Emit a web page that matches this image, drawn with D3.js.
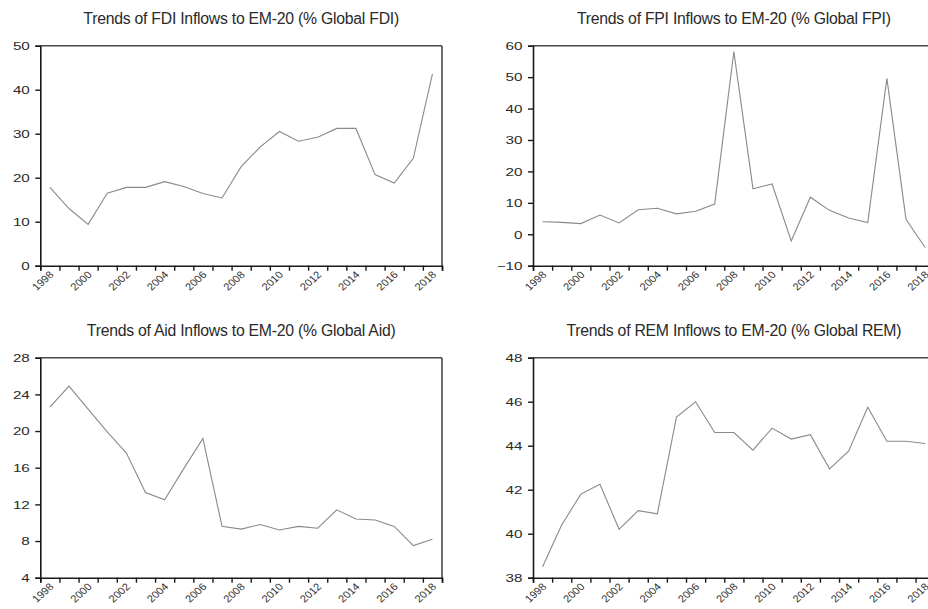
<!DOCTYPE html>
<html>
<head>
<meta charset="utf-8">
<script src="https://cdn.jsdelivr.net/npm/d3@7"></script>
<style>
  html, body { margin: 0; padding: 0; background: #fff; }
  svg { display: block; }
  text { font-family: "Liberation Sans", Arial, sans-serif; }
</style>
</head>
<body>
<script>
// ---------------- DATA ----------------
const years = [1998, 1999, 2000, 2001, 2002, 2003, 2004, 2005, 2006, 2007, 2008,
               2009, 2010, 2011, 2012, 2013, 2014, 2015, 2016, 2017, 2018];
const tickLabels = ["1998", "2000", "2002", "2004", "2006", "2008", "2010", "2012", "2014", "2016", "2018"];

const fdiValues = [17.8, 13.0, 9.4, 16.5, 17.8, 17.8, 19.1, 18.0, 16.4, 15.4, 22.5,
                   27.0, 30.5, 28.3, 29.2, 31.2, 31.2, 20.7, 18.8, 24.4, 43.6];
const fpiValues = [4.0, 3.8, 3.4, 6.1, 3.6, 7.8, 8.3, 6.5, 7.3, 9.6, 58.1,
                   14.5, 16.0, -2.1, 11.8, 7.6, 5.2, 3.7, 49.6, 4.8, -4.2];
const aidValues = [22.6, 24.9, 22.4, 19.9, 17.6, 13.3, 12.5, 15.9, 19.2, 9.6, 9.3,
                   9.8, 9.2, 9.6, 9.4, 11.4, 10.4, 10.3, 9.6, 7.5, 8.2];
const remValues = [38.5, 40.4, 41.8, 42.25, 40.2, 41.05, 40.9, 45.3, 46.0, 44.6, 44.6,
                   43.8, 44.8, 44.3, 44.5, 42.95, 43.75, 45.75, 44.2, 44.2, 44.1];

const titles = [
  "Trends of FDI Inflows to EM-20 (% Global FDI)",
  "Trends of FPI Inflows to EM-20 (% Global FPI)",
  "Trends of Aid Inflows to EM-20 (% Global Aid)",
  "Trends of REM Inflows to EM-20 (% Global REM)"
];
const yDomains = [[0, 50], [-10, 60], [4, 28], [38, 48]];
const yTickValues = [
  [0, 10, 20, 30, 40, 50],
  [-10, 0, 10, 20, 30, 40, 50, 60],
  [4, 8, 12, 16, 20, 24, 28],
  [38, 40, 42, 44, 46, 48]
];
const seriesList = [fdiValues, fpiValues, aidValues, remValues];

// ---------------- LAYOUT ----------------
const W = 928, H = 609;
const plotW = 401.7, plotH = 220;
const lefts = [40.3, 533, 40.3, 533];
const tops = [45.7, 45.7, 357.7, 357.7];

const svg = d3.select("body").append("svg")
  .attr("width", W).attr("height", H);

seriesList.forEach((vals, i) => {
  const L = lefts[i], T = tops[i];
  const g = svg.append("g").attr("transform", `translate(${L},${T})`);

  const x = d3.scaleLinear().domain([years[0], years[years.length - 1] + 1]).range([0, plotW]);
  const y = d3.scaleLinear().domain(yDomains[i]).range([plotH, 0]);

  // title
  svg.append("text")
    .attr("x", L + plotW / 2)
    .attr("y", T - 21.5)
    .attr("text-anchor", "middle")
    .attr("font-size", "15.8px")
    .attr("fill", "#2a2a2a")
    .attr("letter-spacing", "-0.25px")
    .text(titles[i]);

  // frame top/right
  g.append("line").attr("x1", 0).attr("x2", plotW).attr("y1", 0).attr("y2", 0)
    .attr("stroke", "#4a4a4a").attr("stroke-width", 1.4);
  g.append("line").attr("x1", plotW).attr("x2", plotW).attr("y1", 0).attr("y2", plotH)
    .attr("stroke", "#4a4a4a").attr("stroke-width", 1.6);

  // data line
  const line = d3.line()
    .x((d, k) => x(years[k] + 0.5))
    .y(d => y(d));
  g.append("path")
    .datum(vals)
    .attr("fill", "none")
    .attr("stroke", "#8a8a8a")
    .attr("stroke-width", 1.1)
    .attr("d", line);

  // y axis
  const yAxis = d3.axisLeft(y).tickValues(yTickValues[i]).tickSize(5).tickPadding(0).tickFormat(d3.format("d"));
  const ya = g.append("g").call(yAxis);
  ya.select(".domain").attr("stroke", "#1a1a1a").attr("stroke-width", 1.6);
  ya.selectAll(".tick line").attr("stroke", "#1a1a1a").attr("stroke-width", 1.4);
  ya.selectAll(".tick text")
    .attr("x", null).attr("dy", null)
    .attr("font-size", "10.5px")
    .attr("fill", "#2a2a2a")
    .attr("text-anchor", "end")
    .attr("transform", "translate(-10.5,3.8) scale(1.45,1)");

  // x axis
  const xTicks = years.concat([years[years.length - 1] + 1]);
  const xAxis = d3.axisBottom(x).tickValues(xTicks).tickSize(5).tickFormat(() => "");
  const xa = g.append("g").attr("transform", `translate(0,${plotH})`).call(xAxis);
  xa.select(".domain").attr("stroke", "#1a1a1a").attr("stroke-width", 1.6);
  xa.selectAll(".tick line").attr("stroke", "#1a1a1a").attr("stroke-width", 1.4);

  // rotated year labels
  g.append("g").selectAll("text")
    .data(tickLabels)
    .join("text")
    .attr("transform", d => `translate(${x(+d) + 2.5},${plotH + 15}) scale(1.12,1) rotate(-45)`)
    .attr("text-anchor", "middle")
    .attr("dy", "0.35em")
    .attr("font-size", "10px")
    .attr("fill", "#333")
    .text(d => d);
});
</script>
</body>
</html>
